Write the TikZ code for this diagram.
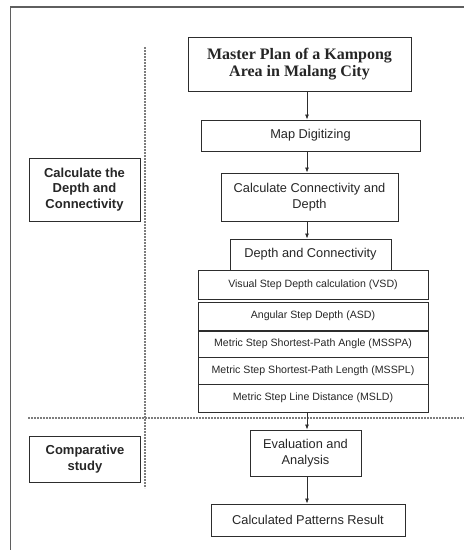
\documentclass[tikz,border=0pt]{standalone}
\usepackage{fontspec}
\setmainfont{Liberation Sans}
\newfontfamily\titlefont{Liberation Serif}
\definecolor{boxline}{RGB}{45, 45, 45}
\definecolor{dotline}{RGB}{125, 125, 125}
\definecolor{frameline}{RGB}{95, 95, 95}
\usetikzlibrary{arrows.meta, positioning}
\tikzset{
    stepbox/.style={rectangle, draw=boxline, line width=0.9pt, inner sep=0pt,
                    align=center, text=black!85, font=\fontsize{12.8}{15.5}\selectfont},
    rowbox/.style={stepbox, minimum width=230pt, font=\fontsize{10.6}{12}\selectfont},
    phasebox/.style={stepbox, minimum width=111pt, font=\bfseries\fontsize{13}{15.5}\selectfont},
    arrow/.style={-{Latex[length=5pt, width=4pt]}, line width=0.8pt, boxline},
    divider/.style={dotline, line width=1.2pt, dash pattern=on 1.6pt off 1.4pt},
}

\begin{document}
\begin{tikzpicture}[x=1pt, y=-1pt]
    \useasboundingbox (0,0) rectangle (464,550);

    % Outer frame
    \draw[frameline, line width=1.2pt] (10.5,550) -- (10.5,7) -- (464,7);

    % Dotted dividers
    \draw[divider] (145,47) -- (145,488);
    \draw[divider] (28,418) -- (464,418);

    % Phase labels
    \node[phasebox, minimum height=63pt] (calcphase) at (84.5,189.5) {Calculate the\\Depth and\\Connectivity};
    \node[phasebox, minimum height=46pt] (comparephase) at (85,459) {Comparative\\study};

    % Main flow
    \node[stepbox, minimum width=223pt, minimum height=54pt,
          font=\titlefont\bfseries\fontsize{16}{17}\selectfont] (master) at (299.5,64) {Master Plan of a Kampong\\Area in Malang City};
    \node[stepbox, minimum width=219pt, minimum height=31pt] (digitize) at (310.5,135.5) {Map Digitizing};
    \node[stepbox, minimum width=177pt, minimum height=48pt] (calcdepth) at (309.5,197) {Calculate Connectivity and\\Depth};
    \node[stepbox, minimum width=161pt, minimum height=31pt] (depthconn) at (310.5,254.5) {Depth and Connectivity};

    % Measures
    \node[rowbox, minimum height=29pt] (vsd) at (313,284.5) {Visual Step Depth calculation (VSD)};
    \node[rowbox, minimum height=28pt] (asd) at (313,316) {Angular Step Depth (ASD)};
    \node[rowbox, minimum height=26pt] (msspa) at (313,344) {Metric Step Shortest-Path Angle (MSSPA)};
    \node[rowbox, minimum height=27pt] (msspl) at (313,370.5) {Metric Step Shortest-Path Length (MSSPL)};
    \node[rowbox, minimum height=28pt] (msld) at (313,398) {Metric Step Line Distance (MSLD)};

    % Comparison
    \node[stepbox, minimum width=111pt, minimum height=46pt] (evaluate) at (305.5,453) {Evaluation and\\Analysis};
    \node[stepbox, minimum width=194pt, minimum height=32pt] (result) at (308,520) {Calculated Patterns Result};

    % Arrows
    \coordinate (axis) at (307,0);
    \draw[arrow] (master.south -| axis) -- (digitize.north -| axis);
    \draw[arrow] (digitize.south -| axis) -- (calcdepth.north -| axis);
    \draw[arrow] (calcdepth.south -| axis) -- (depthconn.north -| axis);
    \draw[arrow] (msld.south -| axis) -- (evaluate.north -| axis);
    \draw[arrow] (evaluate.south -| axis) -- (result.north -| axis);
\end{tikzpicture}
\end{document}
